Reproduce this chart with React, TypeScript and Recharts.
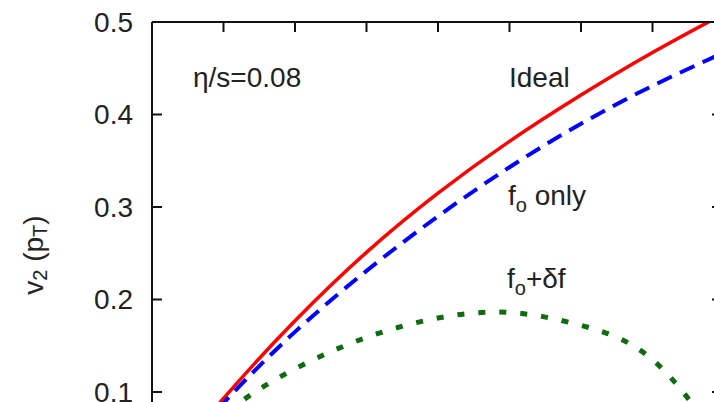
import { LineChart, Line, XAxis, YAxis } from 'recharts'

// transverse momentum grid (GeV) and v2 values
const pT = [0, 0.25, 0.5, 0.75, 1.0, 1.25, 1.5, 1.75, 2.0]
const ideal = [0, 0.093, 0.177, 0.251, 0.315, 0.371, 0.421, 0.467, 0.509]
const foOnly = [0, 0.088, 0.165, 0.231, 0.29, 0.343, 0.39, 0.431, 0.467]
const foDeltaF = [0, 0.075, 0.125, 0.159, 0.18, 0.186, 0.172, 0.135, 0.04]

const xTicks = [0, 0.25, 0.5, 0.75, 1.0, 1.25, 1.5, 1.75, 2.0]
const yTicks = [0, 0.1, 0.2, 0.3, 0.4, 0.5]

const data = pT.map((p, i) => ({ pT: p, ideal: ideal[i], foOnly: foOnly[i], foDeltaF: foDeltaF[i] }))

const FONT = '"Liberation Sans", Arial, Helvetica, sans-serif'
const INK = '#222'
const axisStyle = { stroke: '#111', strokeWidth: 2 }
const noLabel = () => ''

export default function App() {
  return (
    <div
      style={{
        position: 'fixed',
        left: 0,
        top: 0,
        width: 714,
        height: 402,
        overflow: 'hidden',
        background: '#fff',
      }}
    >
      <LineChart
        width={740}
        height={520}
        data={data}
        margin={{ top: 2, right: 10, left: 0, bottom: 5.5 }}
      >
        <XAxis
          xAxisId="bottom"
          dataKey="pT"
          type="number"
          domain={[0, 2]}
          ticks={xTicks}
          height={30}
          axisLine={axisStyle}
          tickLine={axisStyle}
          tickSize={-10}
          tickFormatter={noLabel}
        />
        <XAxis
          xAxisId="top"
          orientation="top"
          dataKey="pT"
          type="number"
          domain={[0, 2]}
          ticks={xTicks}
          height={20}
          axisLine={axisStyle}
          tickLine={axisStyle}
          tickSize={-10}
          tickFormatter={noLabel}
        />
        <YAxis
          yAxisId="left"
          type="number"
          domain={[0, 0.5]}
          allowDataOverflow
          ticks={yTicks}
          width={152}
          axisLine={axisStyle}
          tickLine={axisStyle}
          tickSize={-10}
          tickMargin={29}
          tick={{ fontSize: 28, fill: INK, fontFamily: FONT }}
        />
        <YAxis
          yAxisId="right"
          orientation="right"
          type="number"
          domain={[0, 0.5]}
          allowDataOverflow
          ticks={yTicks}
          width={6}
          axisLine={axisStyle}
          tickLine={axisStyle}
          tickSize={-12}
          tickFormatter={noLabel}
        />
        <Line
          xAxisId="bottom"
          yAxisId="left"
          type="natural"
          dataKey="ideal"
          stroke="#ff0000"
          strokeWidth={3.5}
          dot={false}
          isAnimationActive={false}
        />
        <Line
          xAxisId="bottom"
          yAxisId="left"
          type="natural"
          dataKey="foOnly"
          stroke="#0000ff"
          strokeWidth={4}
          strokeDasharray="16 9"
          dot={false}
          isAnimationActive={false}
        />
        <Line
          xAxisId="bottom"
          yAxisId="left"
          type="natural"
          dataKey="foDeltaF"
          stroke="#0f6b0f"
          strokeWidth={5}
          strokeDasharray="7 14"
          dot={false}
          isAnimationActive={false}
        />
      </LineChart>

      <svg
        width={714}
        height={402}
        style={{ position: 'absolute', left: 0, top: 0, pointerEvents: 'none' }}
        fontFamily={FONT}
        fill={INK}
      >
        <text x={33} y={255} fontSize={28} textAnchor="middle" dominantBaseline="central" transform="rotate(-90 33 255)">
          v<tspan fontSize={20} dy={7}>2</tspan>
          <tspan dy={-7}> (p</tspan>
          <tspan fontSize={20} dy={7}>T</tspan>
          <tspan dy={-7}>)</tspan>
        </text>
        <text x={193} y={87} fontSize={28}>η/s=0.08</text>
        <text x={509} y={87} fontSize={28}>Ideal</text>
        <text x={508} y={205} fontSize={28}>
          f<tspan fontSize={20} dy={7}>o</tspan>
          <tspan dy={-7}> only</tspan>
        </text>
        <text x={507} y={288} fontSize={28}>
          f<tspan fontSize={20} dy={7}>o</tspan>
          <tspan dy={-7}>+δf</tspan>
        </text>
      </svg>
    </div>
  )
}
